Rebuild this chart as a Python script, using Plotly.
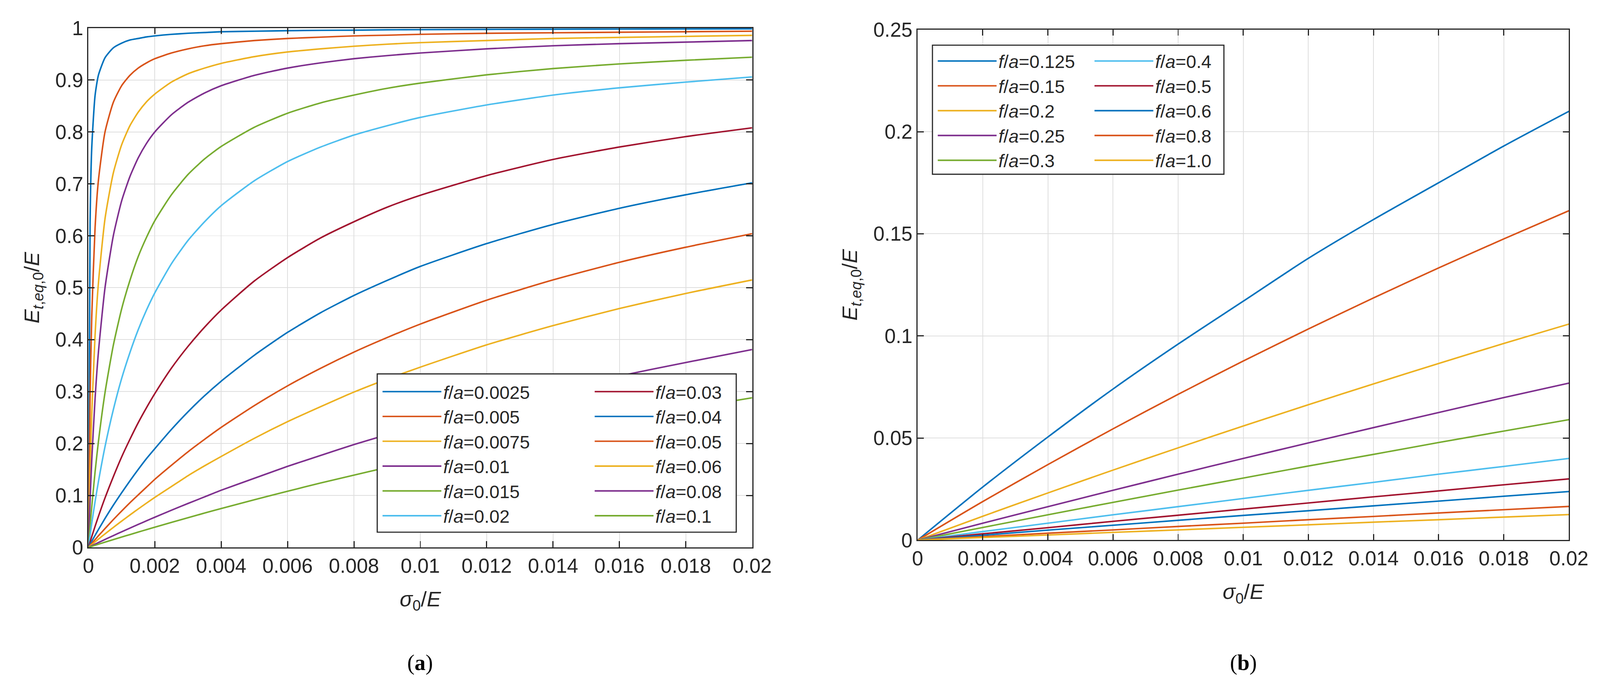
import plotly.graph_objects as go

W, H = 4216, 1784

# ---------------- data: panel (a) ----------------
x_a = [0, 0.00005, 0.0001, 0.0002, 0.0003, 0.0005, 0.00075, 0.001, 0.00125, 0.0015, 0.00175,
       0.002, 0.0025, 0.003, 0.0035, 0.004, 0.005, 0.006, 0.007, 0.008, 0.009, 0.01,
       0.012, 0.014, 0.016, 0.018, 0.02]
labels_a = ["0.0025", "0.005", "0.0075", "0.01", "0.015", "0.02",
            "0.03", "0.04", "0.05", "0.06", "0.08", "0.1"]
y_a_0025 = [0, 0.625, 0.769, 0.870, 0.909, 0.943, 0.962, 0.971, 0.977, 0.980, 0.983,
            0.985, 0.988, 0.990, 0.9915, 0.993, 0.994, 0.995, 0.9957, 0.996, 0.9967, 0.997,
            0.9975, 0.9979, 0.9981, 0.9983, 0.9985]
y_a_005 = [0, 0.286, 0.444, 0.615, 0.706, 0.800, 0.857, 0.889, 0.909, 0.923, 0.933,
           0.941, 0.952, 0.960, 0.966, 0.970, 0.976, 0.980, 0.9825, 0.985, 0.9863, 0.988,
           0.990, 0.991, 0.992, 0.993, 0.994]
y_a_0075 = [0, 0.147, 0.256, 0.408, 0.508, 0.633, 0.721, 0.775, 0.812, 0.838, 0.858,
            0.873, 0.896, 0.912, 0.923, 0.932, 0.945, 0.954, 0.960, 0.965, 0.969, 0.972,
            0.976, 0.980, 0.982, 0.984, 0.986]
y_a_01 = [0, 0.091, 0.167, 0.286, 0.375, 0.500, 0.600, 0.667, 0.714, 0.750, 0.778,
          0.800, 0.833, 0.857, 0.875, 0.889, 0.909, 0.923, 0.933, 0.941, 0.947, 0.952,
          0.960, 0.966, 0.970, 0.973, 0.976]
y_a_015 = [0, 0.041, 0.078, 0.145, 0.203, 0.298, 0.389, 0.459, 0.514, 0.560, 0.597,
           0.629, 0.679, 0.718, 0.748, 0.772, 0.809, 0.836, 0.856, 0.871, 0.884, 0.894,
           0.910, 0.922, 0.931, 0.938, 0.944]
y_a_02 = [0, 0.023, 0.046, 0.088, 0.126, 0.194, 0.265, 0.325, 0.375, 0.419, 0.457,
          0.490, 0.546, 0.591, 0.627, 0.658, 0.706, 0.743, 0.771, 0.794, 0.812, 0.828,
          0.852, 0.871, 0.885, 0.896, 0.906]
y_a_03 = [0, 0.0104, 0.0206, 0.0404, 0.0594, 0.0952, 0.136, 0.174, 0.208, 0.240, 0.269,
          0.296, 0.345, 0.387, 0.424, 0.457, 0.513, 0.558, 0.596, 0.627, 0.655, 0.678,
          0.716, 0.747, 0.771, 0.791, 0.808]
y_a_04 = [0, 0.0058, 0.0116, 0.0230, 0.0341, 0.0556, 0.0811, 0.105, 0.128, 0.150, 0.171,
          0.190, 0.227, 0.261, 0.292, 0.320, 0.370, 0.414, 0.452, 0.485, 0.514, 0.541,
          0.585, 0.622, 0.653, 0.679, 0.702]
y_a_05 = [0, 0.0037, 0.0075, 0.0148, 0.0221, 0.0362, 0.0534, 0.0699, 0.0859, 0.101, 0.116,
          0.131, 0.158, 0.184, 0.208, 0.231, 0.273, 0.311, 0.345, 0.376, 0.404, 0.430,
          0.476, 0.515, 0.549, 0.578, 0.604]
y_a_06 = [0, 0.0027, 0.0053, 0.0105, 0.0157, 0.0259, 0.0384, 0.0505, 0.0623, 0.0739, 0.0852,
          0.0962, 0.117, 0.138, 0.157, 0.175, 0.210, 0.242, 0.271, 0.299, 0.324, 0.347,
          0.390, 0.427, 0.460, 0.489, 0.515]
y_a_08 = [0, 0.0015, 0.0031, 0.0061, 0.0091, 0.0152, 0.0226, 0.0299, 0.0370, 0.0441, 0.0511,
          0.0580, 0.0714, 0.0845, 0.0972, 0.110, 0.133, 0.156, 0.177, 0.198, 0.217, 0.235,
          0.270, 0.301, 0.330, 0.356, 0.381]
y_a_1 = [0, 0.0010, 0.0020, 0.0040, 0.0060, 0.0100, 0.0149, 0.0198, 0.0246, 0.0294, 0.0341,
         0.0388, 0.0481, 0.0571, 0.0660, 0.0748, 0.0917, 0.108, 0.124, 0.139, 0.154, 0.168,
         0.195, 0.220, 0.244, 0.267, 0.288]
series_a = [y_a_0025, y_a_005, y_a_0075, y_a_01, y_a_015, y_a_02,
            y_a_03, y_a_04, y_a_05, y_a_06, y_a_08, y_a_1]

# ---------------- data: panel (b) ----------------
x_b = [0, 0.002, 0.004, 0.006, 0.008, 0.01, 0.012, 0.014, 0.016, 0.018, 0.02]
labels_b = ["0.125", "0.15", "0.2", "0.25", "0.3", "0.4", "0.5", "0.6", "0.8", "1.0"]
y_b_0125 = [0, 0.026, 0.0505, 0.074, 0.096, 0.117, 0.138, 0.157, 0.175, 0.193, 0.210]
y_b_015 = [0, 0.0189, 0.0370, 0.0545, 0.0714, 0.0877, 0.1034, 0.1186, 0.1333, 0.1475, 0.1613]
y_b_02 = [0, 0.0117, 0.0231, 0.0343, 0.0452, 0.0559, 0.0663, 0.0765, 0.0865, 0.0963, 0.1058]
y_b_025 = [0, 0.0083, 0.0164, 0.0244, 0.0323, 0.0400, 0.0476, 0.0551, 0.0625, 0.0698, 0.0769]
y_b_03 = [0, 0.0062, 0.0124, 0.0185, 0.0245, 0.0304, 0.0363, 0.0420, 0.0478, 0.0534, 0.0590]
y_b_04 = [0, 0.0042, 0.0083, 0.0124, 0.0164, 0.0204, 0.0244, 0.0283, 0.0323, 0.0361, 0.0400]
y_b_05 = [0, 0.0031, 0.0061, 0.0092, 0.0122, 0.0152, 0.0182, 0.0212, 0.0241, 0.0271, 0.0300]
y_b_06 = [0, 0.0024, 0.0049, 0.0073, 0.0097, 0.0121, 0.0144, 0.0168, 0.0191, 0.0215, 0.0238]
y_b_08 = [0, 0.0017, 0.0034, 0.0050, 0.0067, 0.0083, 0.0100, 0.0116, 0.0133, 0.0149, 0.0165]
y_b_1 = [0, 0.0013, 0.0025, 0.0038, 0.0050, 0.0063, 0.0075, 0.0088, 0.0100, 0.0113, 0.0125]
series_b = [y_b_0125, y_b_015, y_b_02, y_b_025, y_b_03, y_b_04, y_b_05, y_b_06, y_b_08, y_b_1]

# ticks
xtick_vals = [0, 0.002, 0.004, 0.006, 0.008, 0.01, 0.012, 0.014, 0.016, 0.018, 0.02]
xtick_text = ["0", "0.002", "0.004", "0.006", "0.008", "0.01", "0.012", "0.014", "0.016", "0.018", "0.02"]
ytick_vals_a = [0, 0.1, 0.2, 0.3, 0.4, 0.5, 0.6, 0.7, 0.8, 0.9, 1]
ytick_text_a = ["0", "0.1", "0.2", "0.3", "0.4", "0.5", "0.6", "0.7", "0.8", "0.9", "1"]
ytick_vals_b = [0, 0.05, 0.1, 0.15, 0.2, 0.25]
ytick_text_b = ["0", "0.05", "0.1", "0.15", "0.2", "0.25"]

# MATLAB default colour order
colors = ["#0072BD", "#D95319", "#EDB120", "#7E2F8E", "#77AC30", "#4DBEEE", "#A2142F"]

FONT = "Liberation Sans"
AX = "#262626"


def px_x(p):
    return p / W


def px_y(p):
    return 1 - p / H


fig = go.Figure()

for i, (lab, ys) in enumerate(zip(labels_a, series_a)):
    fig.add_trace(go.Scatter(
        x=x_a, y=ys, mode="lines", xaxis="x", yaxis="y",
        line=dict(color=colors[i % 7], width=4, shape="spline", smoothing=0.6),
        name="<i>f</i>/<i>a</i>=" + lab,
        legend="legend" if i < 6 else "legend2",
        hoverinfo="skip"))

for i, (lab, ys) in enumerate(zip(labels_b, series_b)):
    fig.add_trace(go.Scatter(
        x=x_b, y=ys, mode="lines", xaxis="x2", yaxis="y2",
        line=dict(color=colors[i % 7], width=4, shape="spline", smoothing=0.8),
        name="<i>f</i>/<i>a</i>=" + lab,
        legend="legend3" if i < 5 else "legend4",
        hoverinfo="skip"))

axis_common = dict(
    showline=True, linecolor=AX, linewidth=3, mirror="ticks",
    ticks="inside", ticklen=16, tickwidth=3, tickcolor=AX,
    showgrid=True, gridcolor="#dedede", gridwidth=2,
    zeroline=False, tickfont=dict(family=FONT, size=53, color=AX),
    automargin=False,
)

xtitle = dict(text="<i>σ</i><sub>0</sub>/<i>E</i>", font=dict(family=FONT, size=56, color=AX), standoff=40)
ytitle = dict(text="<i>E</i><sub><i>t</i>,<i>eq</i>,0</sub>/<i>E</i>", font=dict(family=FONT, size=56, color=AX), standoff=25)

fig.update_layout(
    xaxis=dict(domain=[px_x(233), px_x(1982)], range=[0, 0.02], anchor="y",
               tickvals=xtick_vals, ticktext=xtick_text, title=xtitle, **axis_common),
    yaxis=dict(domain=[px_y(1442), px_y(74)], range=[0, 1], anchor="x",
               tickvals=ytick_vals_a, ticktext=ytick_text_a, title=ytitle, **axis_common),
    xaxis2=dict(domain=[px_x(2418), px_x(4134)], range=[0, 0.02], anchor="y2",
                tickvals=xtick_vals, ticktext=xtick_text, title=xtitle, **axis_common),
    yaxis2=dict(domain=[px_y(1423), px_y(78)], range=[0, 0.25], anchor="x2",
                tickvals=ytick_vals_b, ticktext=ytick_text_b, title=ytitle, **axis_common),
)

legend_common = dict(
    xanchor="left", yanchor="top", bgcolor="rgba(255,255,255,0)", borderwidth=0,
    font=dict(family=FONT, size=48, color=AX), itemwidth=155, tracegroupgap=0,
    traceorder="normal", orientation="v",
)
fig.update_layout(
    legend=dict(x=px_x(1003), y=px_y(994), **legend_common),
    legend2=dict(x=px_x(1562), y=px_y(994), **legend_common),
    legend3=dict(x=px_x(2466), y=px_y(123), **legend_common),
    legend4=dict(x=px_x(2879), y=px_y(123), **legend_common),
)

# legend frames
fig.add_shape(type="rect", xref="paper", yref="paper",
              x0=px_x(994), x1=px_x(1940), y0=px_y(1402), y1=px_y(985),
              line=dict(color=AX, width=3), fillcolor="white", layer="above")
fig.add_shape(type="rect", xref="paper", yref="paper",
              x0=px_x(2457), x1=px_x(3225), y0=px_y(459), y1=px_y(119),
              line=dict(color=AX, width=3), fillcolor="white", layer="above")

# sub-figure captions
for xc, t in [(1107, "(<b>a</b>)"), (3276, "(<b>b</b>)")]:
    fig.add_annotation(text=t, xref="paper", yref="paper", x=px_x(xc), y=px_y(1745),
                       showarrow=False, xanchor="center", yanchor="middle",
                       font=dict(family="Liberation Serif", size=58, color="black"))

fig.update_layout(
    width=W, height=H, margin=dict(l=0, r=0, t=0, b=0),
    paper_bgcolor="white", plot_bgcolor="white", showlegend=True,
)

# borderless page; scale the 4216x1784 figure uniformly to whatever CSS viewport the window has
post_js = """
(function(){
  var de = document.documentElement, b = document.body;
  de.style.margin='0'; de.style.padding='0'; de.style.overflow='hidden';
  b.style.margin='0'; b.style.padding='0'; b.style.overflow='hidden';
  var gd = document.getElementById('{plot_id}');
  var s = Math.min(window.innerWidth / 4216, window.innerHeight / 1784);
  if (Math.abs(s - 1) > 0.001) {
    gd.style.transformOrigin = '0 0';
    gd.style.transform = 'scale(' + s + ')';
  }
})();
"""

fig.write_html("out.html", config={"displayModeBar": False}, post_script=post_js)
